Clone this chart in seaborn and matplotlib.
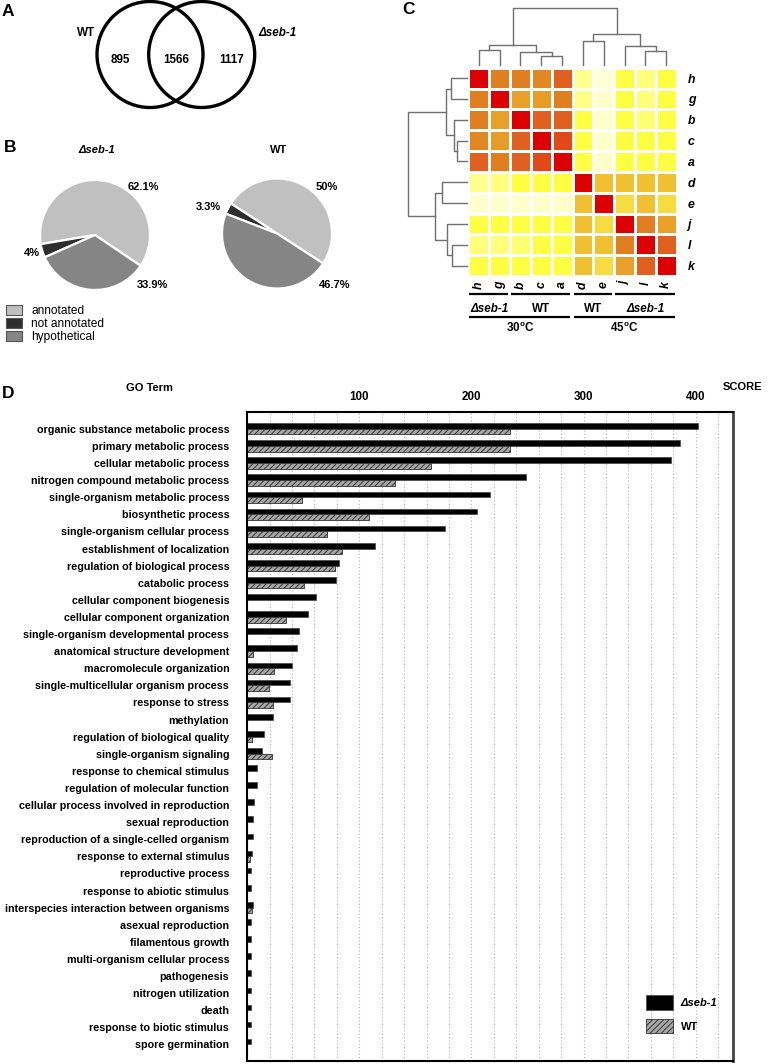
import numpy as np
import pandas as pd
import matplotlib
matplotlib.use("Agg")
import matplotlib.pyplot as plt
import seaborn as sns
from matplotlib import font_manager
from matplotlib.patches import Circle, Patch
from matplotlib.colors import LinearSegmentedColormap
import matplotlib.transforms as mtransforms

# ---------------- data ----------------
venn_labels = ["WT", "Δseb-1"]
venn_counts = [895, 1566, 1117]          # WT only, shared, Δseb-1 only

pie_categories = ["annotated", "not annotated", "hypothetical"]
pie_seb1 = [62.1, 4.0, 33.9]
pie_wt = [50.0, 3.3, 46.7]
pie_seb1_labels = ["62.1%", "4%", "33.9%"]
pie_wt_labels = ["50%", "3.3%", "46.7%"]

samples = ["h", "g", "b", "c", "a", "d", "e", "j", "l", "k"]
corr = [
    [1.00, 0.72, 0.72, 0.70, 0.80, 0.17, 0.03, 0.30, 0.20, 0.30],
    [0.72, 1.00, 0.65, 0.66, 0.72, 0.18, 0.05, 0.30, 0.20, 0.30],
    [0.72, 0.65, 1.00, 0.80, 0.80, 0.30, 0.05, 0.30, 0.22, 0.30],
    [0.70, 0.66, 0.80, 1.00, 0.86, 0.30, 0.05, 0.32, 0.30, 0.30],
    [0.80, 0.72, 0.80, 0.86, 1.00, 0.30, 0.05, 0.30, 0.30, 0.30],
    [0.17, 0.20, 0.30, 0.30, 0.30, 1.00, 0.55, 0.55, 0.55, 0.55],
    [0.04, 0.04, 0.05, 0.05, 0.05, 0.55, 1.00, 0.45, 0.55, 0.45],
    [0.30, 0.30, 0.30, 0.30, 0.30, 0.55, 0.45, 1.00, 0.72, 0.65],
    [0.20, 0.20, 0.22, 0.30, 0.30, 0.55, 0.55, 0.72, 1.00, 0.80],
    [0.30, 0.30, 0.30, 0.30, 0.30, 0.55, 0.45, 0.65, 0.80, 1.00],
]
# hierarchical merges: (child_a, child_b, height); ids >= 10 are earlier merges
linkage = [[0, 1, 45], [3, 4, 27], [2, 11, 38], [10, 12, 61],
           [5, 6, 73], [8, 9, 43], [7, 15, 58], [14, 16, 93], [13, 17, 171]]
col_groups = [("Δseb-1", 0, 2), ("WT", 2, 5), ("WT", 5, 7), ("Δseb-1", 7, 10)]
temp_groups = [("30", 0, 5), ("45", 5, 10)]

go_terms = [
    "organic substance metabolic process", "primary metabolic process",
    "cellular metabolic process", "nitrogen compound metabolic process",
    "single-organism metabolic process", "biosynthetic process",
    "single-organism cellular process", "establishment of localization",
    "regulation of biological process", "catabolic process",
    "cellular component biogenesis", "cellular component organization",
    "single-organism developmental process", "anatomical structure development",
    "macromolecule organization", "single-multicellular organism process",
    "response to stress", "methylation", "regulation of biological quality",
    "single-organism signaling", "response to chemical stimulus",
    "regulation of molecular function", "cellular process involved in reproduction",
    "sexual reproduction", "reproduction of a single-celled organism",
    "response to external stimulus", "reproductive process",
    "response to abiotic stimulus", "interspecies interaction between organisms",
    "asexual reproduction", "filamentous growth", "multi-organism cellular process",
    "pathogenesis", "nitrogen utilization", "death", "response to biotic stimulus",
    "spore germination",
]
score_seb1 = [402, 386, 378, 249, 217, 205, 176, 114, 82, 79, 61, 54, 46, 44,
              40, 38, 38, 23, 15, 13, 9, 9, 6, 5, 5, 4, 3, 3, 5.5, 3, 3, 3, 3,
              3, 3, 3, 3]
score_wt = [234, 234, 164, 132, 49, 109, 71, 85, 78, 51, 0, 35, 0, 5, 24, 19,
            23, 0, 4, 22, 0, 0, 0, 0, 0, 2.5, 0, 0, 4.5, 0, 0, 0, 0, 0, 0, 0, 0]
bar_groups = ["Δseb-1", "WT"]

# ---------------- fonts ----------------
names = {f.name for f in font_manager.fontManager.ttflist}
if "Liberation Sans Narrow" in names:
    FAM, K = "Liberation Sans Narrow", 1.0
else:
    FAM, K = "Liberation Sans", 0.84
plt.rcParams["font.family"] = [FAM, "DejaVu Sans"]
plt.rcParams["mathtext.fontset"] = "custom"
plt.rcParams["mathtext.bf"] = FAM + ":bold"
plt.rcParams["mathtext.rm"] = FAM
plt.rcParams["hatch.linewidth"] = 0.7

W, H = 769, 1064
fig = plt.figure(figsize=(W / 100, H / 100), dpi=100)


def rect(x0, y0, x1, y1):
    return [x0 / W, 1 - y1 / H, (x1 - x0) / W, (y1 - y0) / H]


def fy(y):
    return 1 - y / H


def ftext(x, y, s, **kw):
    kw.setdefault("ha", "center")
    kw.setdefault("va", "center")
    fig.text(x / W, fy(y), s, **kw)


# panel letters
for letter, (x, y) in zip("ABCD", [(8, 12), (10, 148), (409, 9), (8, 393)]):
    ftext(x, y, letter, fontsize=12.5, fontweight="bold", family="Liberation Sans")

# ---------------- A: Venn ----------------
axv = fig.add_axes(rect(0, 0, 330, 130))
axv.set_xlim(0, 330)
axv.set_ylim(130, 0)
axv.axis("off")
r = 53.0
cx = [150.0, 201.7]
cy = 54.5
for c in cx:
    axv.add_patch(Circle((c, cy), r, fill=False, lw=2.4, ec="black"))
tx = [(cx[0] - r + cx[1] - r) / 2 - 3, (cx[1] - r + cx[0] + r) / 2, (cx[0] + r + cx[1] + r) / 2 + 3]
for x, n in zip(tx, venn_counts):
    axv.text(x, 60, str(n), ha="center", va="center", fontsize=10 * K, fontweight="bold")
axv.text(86, 33, venn_labels[0], ha="center", va="center", fontsize=10 * K, fontweight="bold")
axv.text(277, 33, venn_labels[1], ha="center", va="center", fontsize=10 * K,
         fontweight="bold", style="italic")

# ---------------- B: pies ----------------
pie_colors = ["#c0c0c0", "#2e2e2e", "#858585"]
pie_specs = [
    (pie_seb1, pie_seb1_labels, (95, 235), -34, "Δseb-1", "italic",
     [(0.87, 0.87), (-1.15, -0.33), (1.04, -0.91)]),
    (pie_wt, pie_wt_labels, (277, 233.5), -33, "WT", "normal",
     [(0.90, 0.85), (-1.25, 0.48), (1.05, -0.94)]),
]
R = 55
for vals, labs, (pcx, pcy), sa, title, st, lpos in pie_specs:
    half = R * 1.25
    axp = fig.add_axes(rect(pcx - half, pcy - half, pcx + half, pcy + half))
    axp.pie(vals, colors=pie_colors, startangle=sa, counterclock=True,
            wedgeprops=dict(edgecolor="white", linewidth=1.6))
    axp.set_xlim(-1.25, 1.25)
    axp.set_ylim(-1.25, 1.25)
    axp.set_aspect("equal")
    for (lx, ly), s in zip(lpos, labs):
        axp.text(lx, ly, s, ha="center", va="center", fontsize=9.5 * K,
                 fontweight="bold", clip_on=False)
    ftext(pcx + 2, 150, title, fontsize=9.5 * K, fontweight="bold", style=st)

pie_handles = [Patch(facecolor=c, edgecolor="#555555", lw=0.8) for c in pie_colors]
fig.legend(pie_handles, pie_categories, loc="upper left",
           bbox_to_anchor=(6 / W, fy(305)), frameon=False, borderpad=0,
           borderaxespad=0, handlelength=1.35, handleheight=0.85,
           labelspacing=0.08, handletextpad=0.75,
           prop={"family": "Liberation Sans", "size": 8.6})

# ---------------- C: heatmap with dendrograms ----------------
cmap = LinearSegmentedColormap.from_list("heat", [
    (0.00, "#ffffe0"), (0.15, "#ffff99"), (0.30, "#ffff40"), (0.45, "#f7dc40"),
    (0.55, "#f0c030"), (0.65, "#e8a028"), (0.72, "#e08020"), (0.80, "#e06020"),
    (0.88, "#e04418"), (1.00, "#dd0000")])
hx0, hy0, hx1, hy1 = 468.3, 67.7, 676.7, 276
axh = fig.add_axes(rect(hx0, hy0, hx1, hy1))
dfc = pd.DataFrame(corr, index=samples, columns=samples)
sns.heatmap(dfc, cmap=cmap, vmin=0, vmax=1, cbar=False, linewidths=0.8,
            linecolor="white", ax=axh, xticklabels=samples, yticklabels=samples)
axh.yaxis.tick_right()
axh.tick_params(length=0)
axh.tick_params(axis="y", pad=8)
axh.tick_params(axis="x", pad=4)
for t in axh.get_yticklabels():
    t.set_rotation(0)
    t.set_fontstyle("italic")
    t.set_fontweight("bold")
    t.set_fontsize(10.5 * K)
for t in axh.get_xticklabels():
    t.set_rotation(90)
    t.set_fontstyle("italic")
    t.set_fontweight("bold")
    t.set_fontsize(10.5 * K)


def dendro_segments(link, n):
    pos = {i: i + 0.5 for i in range(n)}
    hgt = {i: 0.0 for i in range(n)}
    segs = []
    for k, (a, b, h) in enumerate(link):
        segs.append(([pos[a], pos[a], pos[b], pos[b]], [hgt[a], h, h, hgt[b]]))
        pos[n + k] = (pos[a] + pos[b]) / 2
        hgt[n + k] = h
    return segs


segs = dendro_segments(linkage, len(samples))
axdt = fig.add_axes(rect(hx0, 8, hx1, 65))
axdl = fig.add_axes(rect(408.3, hy0, 466.7, hy1))
for xs, ys in segs:
    axdt.plot(xs, ys, color="#707070", lw=1.0, clip_on=False)
    axdl.plot(ys, xs, color="#707070", lw=1.0, clip_on=False)
axdt.set_xlim(0, 10)
axdt.set_ylim(0, max(l[2] for l in linkage))
axdl.set_ylim(10, 0)
axdl.set_xlim(max(l[2] for l in linkage), 0)
for a in (axdt, axdl):
    a.axis("off")

trans = mtransforms.blended_transform_factory(axh.transData, fig.transFigure)
for lab, g0, g1 in col_groups:
    axh.plot([g0 + 0.05, g1 - 0.1], [fy(294)] * 2, transform=trans, color="black",
             lw=1.6, clip_on=False, solid_capstyle="butt")
    axh.text((g0 + g1) / 2, fy(309), lab, transform=trans, ha="center", va="center",
             fontsize=10 * K, fontweight="bold",
             style="italic" if lab.startswith("Δ") else "normal")
for lab, g0, g1 in temp_groups:
    axh.plot([g0 + 0.05, g1 - 0.1], [fy(316.7)] * 2, transform=trans, color="black",
             lw=1.6, clip_on=False, solid_capstyle="butt")
    axh.text((g0 + g1) / 2, fy(328), r"$\mathbf{" + lab + r"^{o}C}$", transform=trans,
             ha="center", va="center", fontsize=10 * K)

# ---------------- D: GO term bar chart ----------------
axb = fig.add_axes(rect(247.2, 411.7, 733.3, 1060.7))
n = len(go_terms)
dfb = pd.DataFrame({
    "term": go_terms * 2,
    "score": score_seb1 + score_wt,
    "group": [bar_groups[0]] * n + [bar_groups[1]] * n,
})
sns.barplot(data=dfb, x="score", y="term", hue="group", hue_order=bar_groups,
            palette=["black", "#a8a8a8"], orient="h", width=0.66, saturation=1,
            errorbar=None, legend=False, ax=axb)
for p in axb.containers[0]:
    p.set_edgecolor("#444444")
    p.set_linewidth(0.5)
for p in axb.containers[1]:
    p.set_hatch("//////")
    p.set_edgecolor("#333333")
    p.set_linewidth(0.6)

axb.set_xlim(0, 433.6)
axb.set_ylim(n - 0.05, -1.0)
axb.xaxis.tick_top()
axb.set_xticks([100, 200, 300, 400])
axb.set_xticks(np.arange(20, 440, 20), minor=True)
axb.grid(axis="x", which="both", color="#b5b5b5", linestyle=(0, (1, 2)), lw=0.8)
axb.grid(axis="y", visible=False)
axb.set_axisbelow(True)
axb.set_xlabel("")
axb.set_ylabel("")
axb.tick_params(axis="both", which="both", length=0)
axb.tick_params(axis="x", pad=6.5, labelsize=10 * K)
axb.tick_params(axis="y", pad=13, labelsize=9.2 * K)
for t in axb.get_xticklabels() + axb.get_yticklabels():
    t.set_fontweight("bold")
for s in ["left", "top", "bottom"]:
    axb.spines[s].set_linewidth(1.5)
    axb.spines[s].set_color("black")
axb.spines["right"].set_linewidth(2.0)
axb.spines["right"].set_color("#444444")

ftext(150, 388, "GO Term", fontsize=9.5 * K, fontweight="bold")
ftext(742, 387, "SCORE", fontsize=9.5 * K, fontweight="bold")

bar_handles = [Patch(facecolor="black", edgecolor="#444444", lw=0.5),
               Patch(facecolor="#a8a8a8", edgecolor="#333333", hatch="//////", lw=0.6)]
leg = fig.legend(bar_handles, bar_groups, loc="upper left",
                 bbox_to_anchor=(646 / W, fy(995)), frameon=False, borderpad=0,
                 borderaxespad=0, handlelength=2.4, handleheight=1.65,
                 labelspacing=0.83, handletextpad=0.72, fontsize=9.5 * K)
for t, st in zip(leg.get_texts(), ["italic", "normal"]):
    t.set_fontstyle(st)
    t.set_fontweight("bold")

fig.savefig("out.png", dpi=100)
